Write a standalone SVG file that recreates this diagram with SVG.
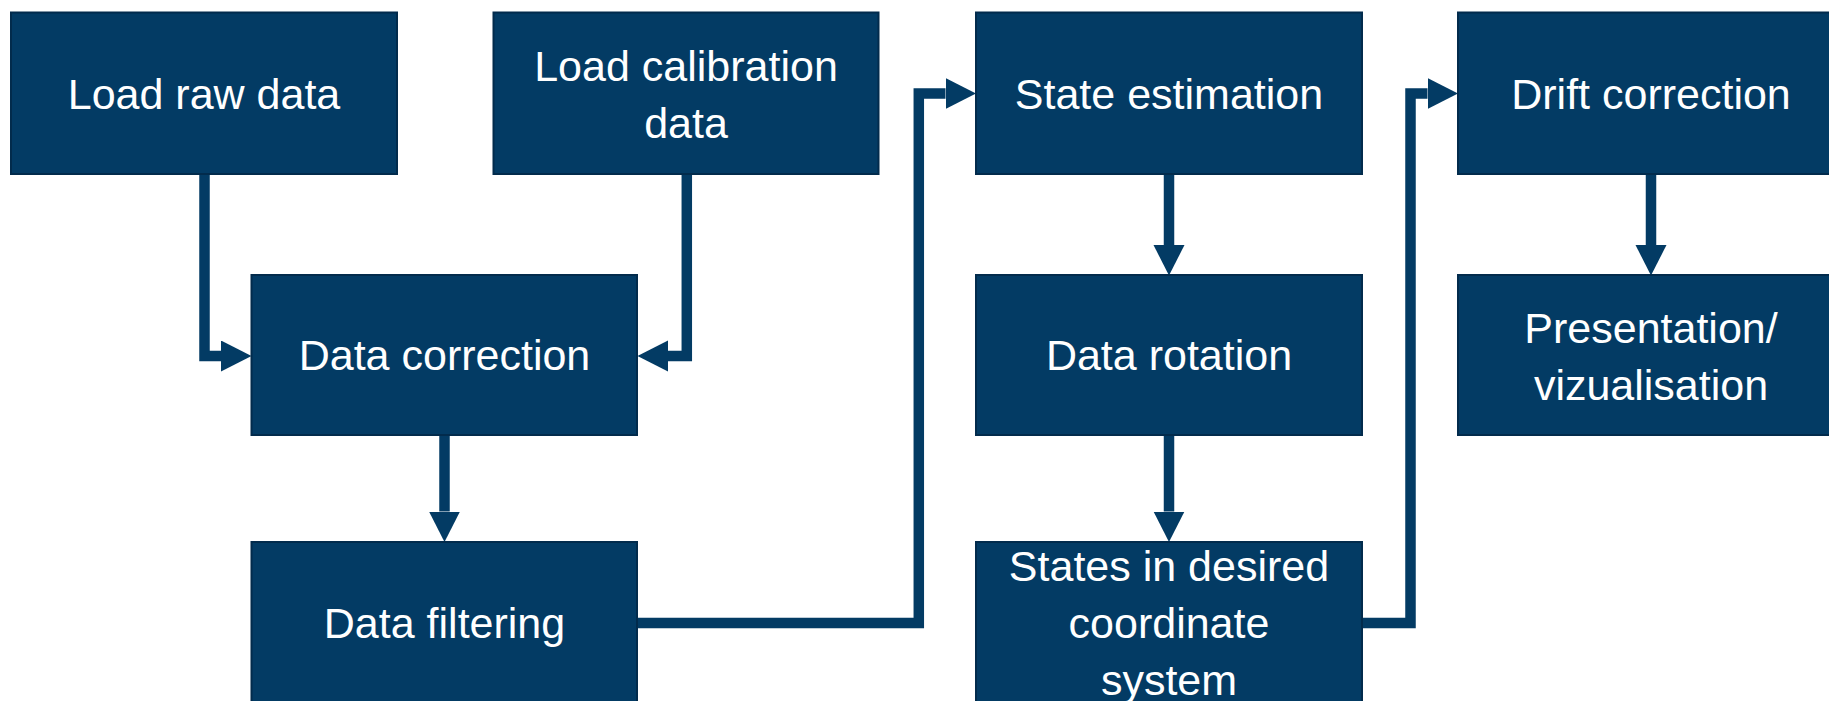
<svg xmlns="http://www.w3.org/2000/svg" width="1829" height="701" viewBox="0 0 1829 701">
<style>
.box{fill:#033B64;stroke:#022B4C;stroke-width:2}
.lbl{fill:#FFFFFF;font-family:"Liberation Sans",Arial,sans-serif;font-size:43px;text-anchor:middle}
.conn{fill:none;stroke:#033B64;stroke-width:10.5;stroke-linejoin:miter}
</style>
<defs>
<marker id="ah" markerUnits="userSpaceOnUse" markerWidth="31" markerHeight="32" refX="0" refY="15.5" orient="auto" viewBox="0 0 31 32">
<path d="M0,0 L30.5,15.5 L0,31 Z" fill="#033B64"/>
</marker>
</defs>
<rect width="1829" height="701" fill="#FFFFFF"/>
<g id="connectors">
<path class="conn" d="M204.5,174 V356 H221" marker-end="url(#ah)"/>
<path class="conn" d="M686.8,174 V356 H668" marker-end="url(#ah)"/>
<path class="conn" d="M444.5,435 V511.5" marker-end="url(#ah)"/>
<path class="conn" d="M637,623 H918.8 V93.5 H945.5" marker-end="url(#ah)"/>
<path class="conn" d="M1169,174 V245" marker-end="url(#ah)"/>
<path class="conn" d="M1169,435 V511.5" marker-end="url(#ah)"/>
<path class="conn" d="M1362,623 H1410.5 V93.5 H1427.5" marker-end="url(#ah)"/>
<path class="conn" d="M1651,174 V245" marker-end="url(#ah)"/>
</g>
<g id="load-raw-data">
<rect class="box" x="11" y="12.5" width="386" height="161.5"/>
<text class="lbl" x="204" y="108.5">Load raw data</text>
</g>
<g id="load-calibration-data">
<rect class="box" x="493.5" y="12.5" width="385" height="161.5"/>
<text class="lbl" x="686" y="81">Load calibration</text>
<text class="lbl" x="686" y="138">data</text>
</g>
<g id="data-correction">
<rect class="box" x="251.5" y="275" width="385.5" height="160"/>
<text class="lbl" x="444.5" y="370">Data correction</text>
</g>
<g id="data-filtering">
<rect class="box" x="251.5" y="542" width="385.5" height="162"/>
<text class="lbl" x="444.5" y="638">Data filtering</text>
</g>
<g id="state-estimation">
<rect class="box" x="976" y="12.5" width="386" height="161.5"/>
<text class="lbl" x="1169" y="108.5">State estimation</text>
</g>
<g id="data-rotation">
<rect class="box" x="976" y="275" width="386" height="160"/>
<text class="lbl" x="1169" y="370">Data rotation</text>
</g>
<g id="states-in-desired-coordinate-system">
<rect class="box" x="976" y="542" width="386" height="162"/>
<text class="lbl" x="1169" y="580.5">States in desired</text>
<text class="lbl" x="1169" y="637.5">coordinate</text>
<text class="lbl" x="1169" y="694.5">system</text>
</g>
<g id="drift-correction">
<rect class="box" x="1458" y="12.5" width="386" height="161.5"/>
<text class="lbl" x="1651" y="108.5">Drift correction</text>
</g>
<g id="presentation-vizualisation">
<rect class="box" x="1458" y="275" width="386" height="160"/>
<text class="lbl" x="1651" y="343">Presentation/</text>
<text class="lbl" x="1651" y="400">vizualisation</text>
</g>
</svg>
